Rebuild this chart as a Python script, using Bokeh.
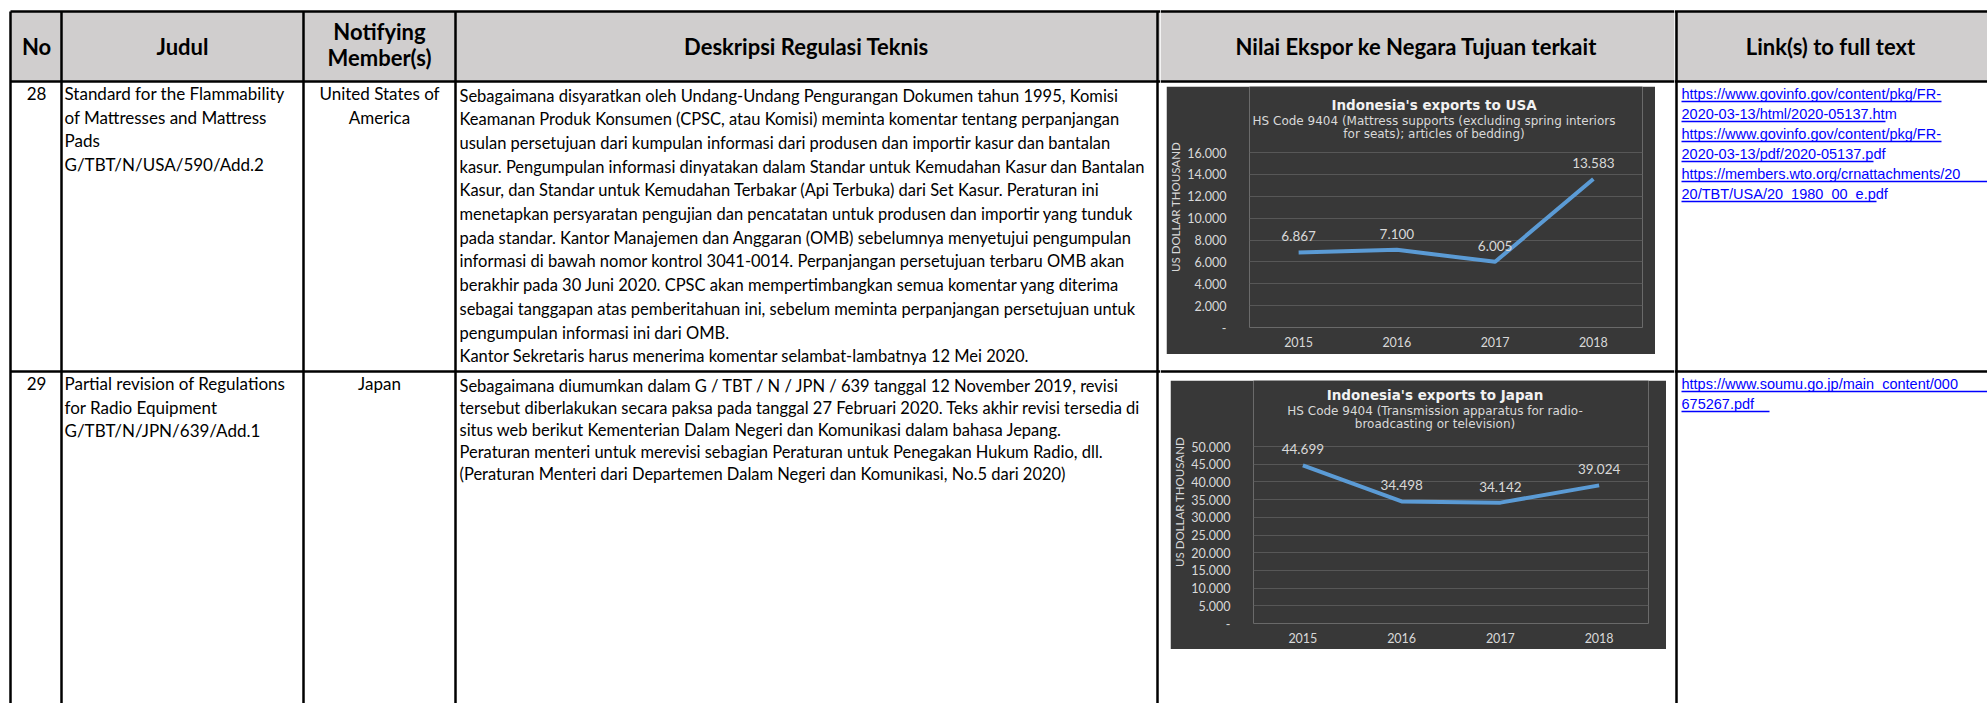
from bokeh.plotting import figure
from bokeh.models import Range1d, FactorRange, ColumnDataSource, LabelSet, Label, FixedTicker, Spacer, CustomJSTickFormatter
from bokeh.layouts import row, column
from bokeh.core.properties import value
from bokeh.embed import file_html
from bokeh.resources import INLINE

# ---------------- data ----------------
years = ["2015", "2016", "2017", "2018"]
usa_values = [6867, 7100, 6005, 13583]
japan_values = [44699, 34498, 34142, 39024]
usa_ticks = [0, 2000, 4000, 6000, 8000, 10000, 12000, 14000, 16000]
japan_ticks = [0, 5000, 10000, 15000, 20000, 25000, 30000, 35000, 40000, 45000, 50000]

usa_title = "Indonesia's exports to USA"
usa_sub = ["HS Code 9404 (Mattress supports (excluding spring interiors", "for seats); articles of bedding)"]
japan_title = "Indonesia's exports to Japan"
japan_sub = ["HS Code 9404 (Transmission apparatus for radio-", "broadcasting or television)"]
y_axis_title = "US DOLLAR THOUSAND"

header_no = "No"
header_judul = "Judul"
header_member = ["Notifying", "Member(s)"]
header_desc = "Deskripsi Regulasi Teknis"
header_chart = "Nilai Ekspor ke Negara Tujuan terkait"
header_link = "Link(s) to full text"

row_numbers = ["28", "29"]
judul_1 = [" Standard for the Flammability", "of Mattresses and Mattress", "Pads", "G/TBT/N/USA/590/Add.2"]
judul_2 = ["Partial revision of Regulations", "for Radio Equipment", "G/TBT/N/JPN/639/Add.1"]
member_1 = ["United States of", "America"]
member_2 = ["Japan"]
desc_1 = [
    "Sebagaimana disyaratkan oleh Undang-Undang Pengurangan Dokumen tahun 1995, Komisi",
    "Keamanan Produk Konsumen (CPSC, atau Komisi) meminta komentar tentang perpanjangan",
    "usulan persetujuan dari kumpulan informasi dari produsen dan importir kasur dan bantalan",
    "kasur. Pengumpulan informasi dinyatakan dalam Standar untuk Kemudahan Kasur dan Bantalan",
    "Kasur, dan Standar untuk Kemudahan Terbakar (Api Terbuka) dari Set Kasur. Peraturan ini",
    "menetapkan persyaratan pengujian dan pencatatan untuk produsen dan importir yang tunduk",
    "pada standar. Kantor Manajemen dan Anggaran (OMB) sebelumnya menyetujui pengumpulan",
    "informasi di bawah nomor kontrol 3041-0014. Perpanjangan persetujuan terbaru OMB akan",
    "berakhir pada 30 Juni 2020. CPSC akan mempertimbangkan semua komentar yang diterima",
    "sebagai tanggapan atas pemberitahuan ini, sebelum meminta perpanjangan persetujuan untuk",
    "pengumpulan informasi ini dari OMB.",
    "Kantor Sekretaris harus menerima komentar selambat-lambatnya 12 Mei 2020.",
]
desc_2 = [
    "Sebagaimana diumumkan dalam G / TBT / N / JPN / 639 tanggal 12 November 2019, revisi",
    "tersebut diberlakukan secara paksa pada tanggal 27 Februari 2020. Teks akhir revisi tersedia di",
    "situs web berikut Kementerian Dalam Negeri dan Komunikasi dalam bahasa Jepang.",
    "Peraturan menteri untuk merevisi sebagian Peraturan untuk Penegakan Hukum Radio, dll.",
    "(Peraturan Menteri dari Departemen Dalam Negeri dan Komunikasi, No.5 dari 2020)",
]
links_1 = [
    "https://www.govinfo.gov/content/pkg/FR-",
    "2020-03-13/html/2020-05137.htm",
    "https://www.govinfo.gov/content/pkg/FR-",
    "2020-03-13/pdf/2020-05137.pdf",
    "https://members.wto.org/crnattachments/20",
    "20/TBT/USA/20_1980_00_e.pdf",
]
links_2 = [
    "https://www.soumu.go.jp/main_content/000",
    "675267.pdf",
]

# ---------------- style / layout ----------------
FONT = "Lato"
HEAD_BG = "#d0cece"
CHART_BG = "#383838"
LW = 2.5
TOP, HEAD_BOT, ROW_SEP, BOTTOM = 11, 81, 371, 703
COLS = [10, 61, 303, 455, 1157, 1676]
HEAD_SIZE = "22px"
JUDUL_SIZE = "17px"
DESC_SIZE = "16.5px"
LINK_SIZE = "14.5px"
W_TOTAL, H_TOTAL = 1987, 703


def fmt_thousands(v):
    return f"{v:,}".replace(",", ".")


def table_fig(x0, x1, y0, y1):
    p = figure(width=x1 - x0, height=y1 - y0, x_range=Range1d(x0, x1), y_range=Range1d(y1, y0),
               output_backend="svg", toolbar_location=None, min_border=0,
               x_axis_location=None, y_axis_location=None)
    p.outline_line_color = None
    p.grid.visible = False
    p.background_fill_color = "white"
    p.border_fill_color = "white"
    return p


def add_text(p, xs, ys, texts, size=DESC_SIZE, align="left", bold=False, font=FONT, color="black"):
    p.text(x=xs, y=ys, text=texts, text_font=value(font), text_font_size=size,
           text_align=align, text_baseline="middle", text_color=color,
           text_font_style="bold" if bold else "normal")


def hlines(p, x0, x1, ys):
    p.segment(x0=[x0] * len(ys), y0=ys, x1=[x1] * len(ys), y1=ys, line_color="black", line_width=LW)


def vlines(p, xs, y0, y1):
    p.segment(x0=xs, y0=[y0] * len(xs), x1=xs, y1=[y1] * len(xs), line_color="black", line_width=LW)


# ---- left part of table ----
L = table_fig(0, 1160, 0, H_TOTAL)
L.quad(left=[10], right=[1160], top=[TOP], bottom=[HEAD_BOT], fill_color=HEAD_BG, line_color=None)
hlines(L, 10, 1160, [TOP, HEAD_BOT, ROW_SEP])
vlines(L, COLS[:5], TOP, BOTTOM)
add_text(L, [36, 182, 806], [46, 46, 46], [header_no, header_judul, header_desc], size=HEAD_SIZE, align="center", bold=True)
add_text(L, [379, 379], [31, 57], header_member, size=HEAD_SIZE, align="center", bold=True)
add_text(L, [36, 36], [93, 383], row_numbers, size=JUDUL_SIZE, align="center")
add_text(L, [64] * len(judul_1), [93 + 23.7 * i for i in range(len(judul_1))], judul_1, size=JUDUL_SIZE)
add_text(L, [64] * len(judul_2), [383 + 23.7 * i for i in range(len(judul_2))], judul_2, size=JUDUL_SIZE)
add_text(L, [379] * len(member_1), [93 + 23.7 * i for i in range(len(member_1))], member_1, size=JUDUL_SIZE, align="center")
add_text(L, [379] * len(member_2), [383 + 23.7 * i for i in range(len(member_2))], member_2, size=JUDUL_SIZE, align="center")
add_text(L, [459] * len(desc_1), [95 + 23.7 * i for i in range(len(desc_1))], desc_1)
add_text(L, [459] * len(desc_2), [385 + 22 * i for i in range(len(desc_2))], desc_2)

# ---- right part of table ----
R = table_fig(1674, W_TOTAL, 0, H_TOTAL)
R.quad(left=[1674], right=[W_TOTAL], top=[TOP], bottom=[HEAD_BOT], fill_color=HEAD_BG, line_color=None)
hlines(R, 1674, W_TOTAL, [TOP, HEAD_BOT, ROW_SEP])
vlines(R, [COLS[5]], TOP, BOTTOM)
add_text(R, [1830], [46], [header_link], size=HEAD_SIZE, align="center", bold=True)
link_ends_1 = [1941, 1885, 1941, 1873, 1995, 1876]
link_ends_2 = [1995, 1769]
ly1 = [93 + 20 * i for i in range(len(links_1))]
ly2 = [383 + 20 * i for i in range(len(links_2))]
add_text(R, [1681] * len(links_1), ly1, links_1, size=LINK_SIZE, font="Liberation Sans", color="#0000ff")
add_text(R, [1681] * len(links_2), ly2, links_2, size=LINK_SIZE, font="Liberation Sans", color="#0000ff")
uy = [y + 8 for y in ly1 + ly2]
R.segment(x0=[1681] * len(uy), y0=uy, x1=link_ends_1 + link_ends_2, y1=uy, line_color="#0000ff", line_width=1.3)

# ---- middle column pieces ----
MH = table_fig(1160, 1674, 0, 86)
MH.quad(left=[1160], right=[1674], top=[TOP], bottom=[HEAD_BOT], fill_color=HEAD_BG, line_color=None)
hlines(MH, 1160, 1674, [TOP, HEAD_BOT])
add_text(MH, [1416], [46], [header_chart], size=HEAD_SIZE, align="center", bold=True)

MM = table_fig(1160, 1674, 354, 380)
hlines(MM, 1160, 1674, [ROW_SEP])


def chart(width, height, left, right, zero_px, top_px, vals, ticks, title, subs, title_dx, title_pys):
    vmax = ticks[-1]

    def y_at(py):  # vertical position (px from chart top) -> value units
        return vmax * (zero_px - py) / (zero_px - top_px)

    p = figure(width=width, height=height, x_range=FactorRange(*years), y_range=Range1d(0, y_at(0)),
               output_backend="svg", toolbar_location=None,
               min_border_left=left, min_border_right=right, min_border_top=0,
               min_border_bottom=height - zero_px)
    p.background_fill_color = CHART_BG
    p.border_fill_color = CHART_BG
    p.outline_line_color = None
    p.xgrid.visible = False
    p.ygrid.grid_line_color = "#575757"
    p.ygrid.grid_line_width = 1
    p.yaxis.ticker = FixedTicker(ticks=ticks)
    p.yaxis.formatter = CustomJSTickFormatter(code="return tick == 0 ? '-' : String(tick).replace(/\\B(?=(\\d{3})+(?!\\d))/g, '.');")
    for ax in (p.xaxis[0], p.yaxis[0]):
        ax.axis_line_color = None
        ax.major_tick_line_color = None
        ax.minor_tick_line_color = None
        ax.major_label_text_color = "#d9d9d9"
        ax.major_label_text_font = FONT
        ax.major_label_text_font_size = "12.5px"
    p.yaxis.major_label_standoff = 17
    p.xaxis.major_label_standoff = 3
    p.yaxis.axis_label = y_axis_title
    p.yaxis.axis_label_text_font = FONT
    p.yaxis.axis_label_text_font_size = "11.5px"
    p.yaxis.axis_label_text_font_style = "normal"
    p.yaxis.axis_label_text_color = "#d9d9d9"
    p.yaxis.axis_label_standoff = 2
    p.line(x=years, y=vals, line_width=4, line_color="#5b9bd5", line_join="round")
    src = ColumnDataSource(dict(x=years, y=vals, t=[fmt_thousands(v) for v in vals]))
    p.add_layout(LabelSet(x="x", y="y", text="t", source=src, text_align="center", text_baseline="middle",
                          y_offset=16, text_color="#d9d9d9", text_font=value(FONT), text_font_size="13.5px"))
    mid = len(years) / 2
    p.add_layout(Label(x=mid, y=y_at(title_pys[0]), x_offset=title_dx, text=title,
                       text_align="center", text_baseline="middle", text_color="#f2f2f2",
                       text_font="DejaVu Sans", text_font_style="bold", text_font_size="13.5px"))
    for s, py in zip(subs, title_pys[1:]):
        p.add_layout(Label(x=mid, y=y_at(py), x_offset=title_dx, text=s,
                           text_align="center", text_baseline="middle", text_color="#d9d9d9",
                           text_font="DejaVu Sans", text_font_size="12px"))
    return p


c1 = chart(489, 268, 78, 13, 241, 66, usa_values, usa_ticks, usa_title, usa_sub, -12, [18, 34, 47])
c2 = chart(496, 269, 82, 18, 243, 66, japan_values, japan_ticks, japan_title, japan_sub, -16, [14, 30, 43])

M = column(
    MH,
    row(Spacer(width=6, height=268), c1, Spacer(width=19, height=268)),
    MM,
    row(Spacer(width=10, height=269), c2, Spacer(width=8, height=269)),
    Spacer(width=514, height=H_TOTAL - 86 - 268 - 26 - 269),
)

layout = row(L, M, R)
open("out.html", "w").write(file_html(layout, INLINE))
